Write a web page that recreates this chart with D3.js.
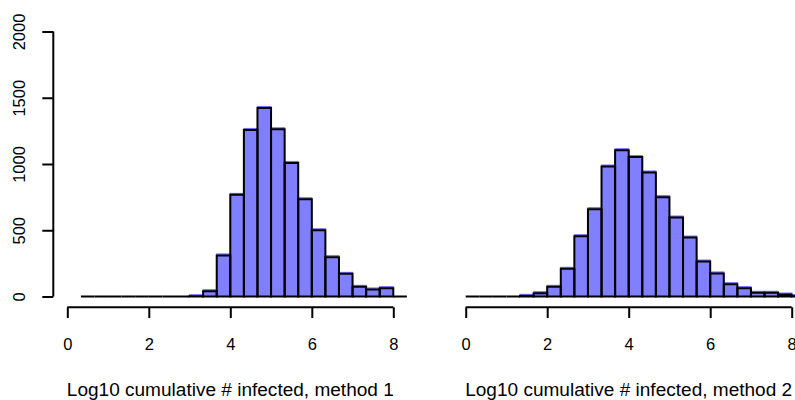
<!DOCTYPE html>
<html>
<head>
<meta charset="utf-8">
<script src="https://cdn.jsdelivr.net/npm/d3@7"></script>
<style>
  body { margin: 0; background: #fff; }
  svg { display: block; }
  text { font-family: "Liberation Sans", Arial, sans-serif; fill: #000; }
</style>
</head>
<body>
<svg id="chart" width="795" height="400"></svg>
<script>
// bin width is a third of a log10 unit
var binWidth = 1 / 3;

// method 1: bins start at 1/3
var leftStart = 1 / 3;
var leftCounts = [0, 0, 0, 0, 0, 0, 0, 0, 2, 40, 310, 767, 1257, 1423, 1262, 1008, 734, 500, 297, 171, 73, 53, 63, 0];

// method 2: bins start at 0
var rightStart = 0;
var rightCounts = [0, 0, 0, 0, 5, 25, 73, 209, 455, 659, 981, 1104, 1052, 936, 750, 596, 445, 264, 174, 93, 63, 28, 28, 15, 3];

var xTicks = [0, 2, 4, 6, 8];
var yTicks = [0, 500, 1000, 1500, 2000];
var titles = ["Log10 cumulative # infected, method 1", "Log10 cumulative # infected, method 2"];

var svg = d3.select('#chart');

var y = d3.scaleLinear().domain([0, 2000]).range([296.5, 31.5]);

function toBins(start, counts) {
    return counts.map(function(c, i) {
        return { x0: start + i * binWidth, x1: start + (i + 1) * binWidth, count: c };
    });
}

function drawPanel(offsetX, start, counts, title, showY) {
    var x = d3.scaleLinear().domain([0, 8]).range([offsetX + 67.3, offsetX + 393.3]);
    var bins = toBins(start, counts);
    var g = svg.append('g');

    // blue fill, sitting a hair above the black outline
    g.selectAll('rect.fill')
        .data(bins.filter(function(d){ return d.count > 0; }))
        .enter().append('rect')
        .attr('class', 'fill')
        .attr('x', function(d){ return x(d.x0); })
        .attr('width', function(d){ return x(d.x1) - x(d.x0); })
        .attr('y', function(d){ return y(d.count) - 1.5; })
        .attr('height', function(d){ return y(0) - y(d.count) + 1.5; })
        .style('fill', '#8080ff')
        .style('stroke', '#6a6aff')
        .style('stroke-width', 1);

    // black outlines, zero bins collapse into the baseline
    g.selectAll('path.outline')
        .data(bins)
        .enter().append('path')
        .attr('class', 'outline')
        .attr('d', function(d){
            var p = d3.path();
            p.moveTo(x(d.x0), y(0));
            p.lineTo(x(d.x0), y(d.count));
            p.lineTo(x(d.x1), y(d.count));
            p.lineTo(x(d.x1), y(0));
            p.closePath();
            return p.toString();
        })
        .style('fill', 'none')
        .style('stroke', '#000')
        .style('stroke-width', 2);

    // x axis, R style: detached line below the plot
    var xAxis = d3.axisBottom(x).tickValues(xTicks).tickSize(10.7).tickPadding(20).tickSizeOuter(0);
    var ax = g.append('g').attr('transform', 'translate(0,307.3)').call(xAxis);
    ax.select('.domain').attr('d', 'M' + x(0) + ',0H' + x(8)).style('stroke', '#000').style('stroke-width', 2);
    ax.selectAll('.tick line').style('stroke', '#000').style('stroke-width', 2);
    ax.selectAll('.tick text').style('font-size', '16.5px').attr('dy', null).attr('y', 43.2)
        .style('font-family', '"Liberation Sans", Arial, sans-serif');

    if (showY) {
        var yAxis = d3.axisLeft(y).tickValues(yTicks).tickSize(11).tickSizeOuter(0).tickFormat(d3.format('d'));
        var ay = g.append('g').attr('transform', 'translate(53.3,0)').call(yAxis);
        ay.select('.domain').attr('d', 'M0,' + y(0) + 'V' + y(2000)).style('stroke', '#000').style('stroke-width', 2);
        ay.selectAll('.tick line').style('stroke', '#000').style('stroke-width', 2);
        ay.selectAll('.tick text')
            .attr('x', null).attr('dy', null)
            .attr('transform', 'translate(-28.3,0) rotate(-90)')
            .attr('text-anchor', 'middle')
            .style('font-size', '16.5px')
            .style('font-family', '"Liberation Sans", Arial, sans-serif');
    }

    g.append('text')
        .attr('x', x(4))
        .attr('y', 396)
        .attr('text-anchor', 'middle')
        .attr('textLength', 327)
        .attr('lengthAdjust', 'spacingAndGlyphs')
        .style('font-size', '17.5px')
        .text(title);
}

drawPanel(0, leftStart, leftCounts, titles[0], true);
drawPanel(398.4, rightStart, rightCounts, titles[1], false);
</script>
</body>
</html>
